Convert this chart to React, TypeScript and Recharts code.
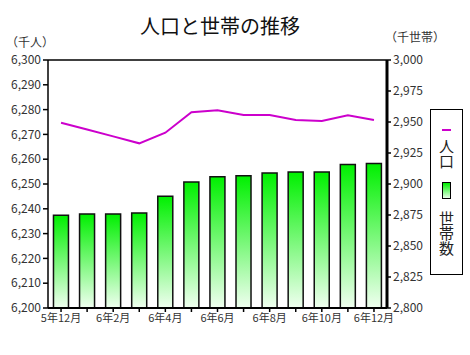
import React from "react";
import { ComposedChart, Bar, Line, XAxis, YAxis, ReferenceLine } from "recharts";

const months = [
  "5年12月", "6年1月", "6年2月", "6年3月", "6年4月", "6年5月", "6年6月",
  "6年7月", "6年8月", "6年9月", "6年10月", "6年11月", "6年12月",
];
// 人口（千人）左軸
const population = [6274.7, 6272.0, 6269.2, 6266.4, 6270.7, 6278.9, 6279.7, 6277.8, 6277.8, 6275.8, 6275.4, 6277.7, 6275.8];
// 世帯数（千世帯）右軸
const households = [2874.8, 2875.9, 2875.9, 2876.7, 2890.2, 2901.7, 2905.8, 2906.6, 2908.8, 2909.6, 2909.6, 2915.8, 2916.6];
const leftTicks = [6200, 6210, 6220, 6230, 6240, 6250, 6260, 6270, 6280, 6290, 6300];
const rightTicks = [2800, 2825, 2850, 2875, 2900, 2925, 2950, 2975, 3000];

const data = months.map((m, i) => ({ month: m, pop: population[i], hh: households[i] }));

const FONT = "'Noto Sans CJK JP', sans-serif";
const fmt = (v: number) => v.toLocaleString("en-US");

function VerticalLegend() {
  return (
    <div
      style={{
        position: "absolute",
        left: 430,
        top: 109,
        width: 33,
        height: 166,
        border: "1px solid #000",
        boxSizing: "border-box",
        background: "#fff",
        display: "flex",
        flexDirection: "column",
        alignItems: "center",
        fontFamily: FONT,
        fontSize: 15,
        color: "#222",
      }}
    >
      <div style={{ width: 9, height: 2, background: "#cc00cc", marginTop: 19 }} />
      <div style={{ writingMode: "vertical-rl", marginTop: 8, lineHeight: 1 }}>人口</div>
      <div
        style={{
          width: 7,
          height: 15,
          border: "1.5px solid #000",
          background: "linear-gradient(#00ee00, #e8ffe8)",
          marginTop: 13,
        }}
      />
      <div style={{ writingMode: "vertical-rl", marginTop: 12, lineHeight: 1 }}>世帯数</div>
    </div>
  );
}

export default function App() {
  return (
    <div style={{ position: "absolute", left: 0, top: 0, width: 470, height: 355, background: "#fff", fontFamily: FONT }}>
      <div style={{ position: "absolute", left: 0, width: 440, top: 14, textAlign: "center", fontSize: 20, lineHeight: 1.2, color: "#111" }}>
        人口と世帯の推移
      </div>
      <div style={{ position: "absolute", left: 6, top: 36, fontSize: 12, lineHeight: 1, color: "#333" }}>（千人）</div>
      <div style={{ position: "absolute", left: 385, top: 31, fontSize: 12, lineHeight: 1, color: "#333" }}>（千世帯）</div>
      <ComposedChart
        width={470}
        height={355}
        data={data}
        margin={{ top: 60, right: 33, left: 6, bottom: 27 }}
        barCategoryGap="21%"
      >
        <defs>
          <linearGradient id="hhGrad" x1="0" y1="0" x2="0" y2="1">
            <stop offset="0%" stopColor="#00f000" />
            <stop offset="100%" stopColor="#f0fff0" />
          </linearGradient>
        </defs>
        <XAxis
          dataKey="month"
          interval={0}
          tickSize={4}
          tickFormatter={(v: string, i: number) => (i % 2 === 0 ? v : "")}
          tick={{ fontSize: 11, fill: "#333" }}
          axisLine={{ stroke: "#000", strokeWidth: 2 }}
          tickLine={{ stroke: "#000", strokeWidth: 1.5 }}
          height={20}
        />
        <YAxis
          yAxisId="left"
          orientation="left"
          domain={[6200, 6300]}
          ticks={leftTicks}
          tickFormatter={fmt}
          width={42}
          tickSize={5}
          tick={{ fontSize: 12, fill: "#333" }}
          axisLine={{ stroke: "#000", strokeWidth: 1.5 }}
          tickLine={{ stroke: "#000", strokeWidth: 1.5 }}
          interval={0}
        />
        <YAxis
          yAxisId="right"
          orientation="right"
          domain={[2800, 3000]}
          ticks={rightTicks}
          tickFormatter={fmt}
          width={50}
          tickSize={4}
          tick={{ fontSize: 12, fill: "#333" }}
          axisLine={{ stroke: "#000", strokeWidth: 3 }}
          tickLine={{ stroke: "#000", strokeWidth: 1.5 }}
          interval={0}
        />
        <ReferenceLine yAxisId="left" y={6300} stroke="#000" strokeWidth={1.5} />
        <Bar
          yAxisId="right"
          dataKey="hh"
          name="世帯数"
          fill="url(#hhGrad)"
          stroke="#111"
          strokeWidth={1.5}
          isAnimationActive={false}
        />
        <Line
          yAxisId="left"
          dataKey="pop"
          name="人口"
          type="linear"
          stroke="#cc00cc"
          strokeWidth={2}
          dot={false}
          isAnimationActive={false}
        />
      </ComposedChart>
      <VerticalLegend />
    </div>
  );
}
